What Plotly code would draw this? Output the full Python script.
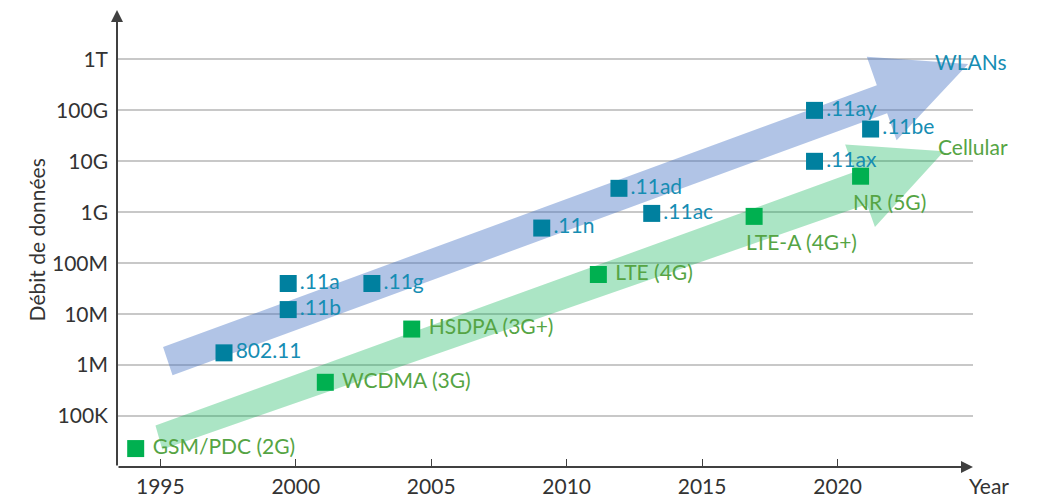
import math
import plotly.graph_objects as go

# Dados
wlan_nomes = ['802.11', '.11b', '.11a', '.11g', '.11n', '.11ad', '.11ac', '.11ay', '.11ax', '.11be']
wlan_anos = [1997.35, 1999.72, 1999.72, 2002.81, 2009.08, 2011.93, 2013.14, 2019.15, 2019.15, 2021.22]
wlan_debit = [1.74e6, 1.23e7, 4.0e7, 4.0e7, 4.9e8, 2.95e9, 9.5e8, 1.0e11, 1.0e10, 4.3e10]

cell_nomes = ['GSM/PDC (2G)', 'WCDMA (3G)', 'HSDPA (3G+)', 'LTE (4G)', 'LTE-A (4G+)', 'NR (5G)']
cell_anos = [1994.09, 2001.09, 2004.28, 2011.17, 2016.92, 2020.85]
cell_debit = [2.3e4, 4.6e5, 5.1e6, 6.0e7, 8.3e8, 5.1e9]
cell_dessous = [False, False, False, False, True, True]  # etiquette sous le point

# Contour des grandes fleches (annee, log10 debit)
fleche_wlan_x = [1995.10, 2021.45, 2021.08, 2024.82, 2022.18, 2021.83, 1995.45]
fleche_wlan_y = [6.355, 11.495, 12.051, 11.908, 10.415, 10.945, 5.799]
fleche_cell_x = [1994.82, 2020.64, 2020.28, 2023.93, 2021.38, 2021.08, 1995.07]
fleche_cell_y = [4.817, 9.794, 10.330, 10.199, 8.712, 9.158, 4.345]

# Ticks
x_ticks = [1995, 2000, 2005, 2010, 2015, 2020]
y_ticks = [1e5, 1e6, 1e7, 1e8, 1e9, 1e10, 1e11, 1e12]
y_labels = ['100K', '1M', '10M', '100M', '1G', '10G', '100G', '1T']

fonte = 'Lato'
taille = 21
cor_azul = '#00809f'
cor_azul_txt = '#168db3'
cor_verde = '#00b050'
cor_verde_txt = '#55a444'
cor_eixo = '#404040'

fig = go.Figure()

# Fleches
fig.add_trace(go.Scatter(x=fleche_wlan_x, y=[10 ** v for v in fleche_wlan_y],
                         fill='toself', fillcolor='rgba(68,114,196,0.42)',
                         mode='lines', line=dict(width=0), hoverinfo='skip'))
fig.add_trace(go.Scatter(x=fleche_cell_x, y=[10 ** v for v in fleche_cell_y],
                         fill='toself', fillcolor='rgba(0,176,80,0.33)',
                         mode='lines', line=dict(width=0), hoverinfo='skip'))

# Points WLAN
fig.add_trace(go.Scatter(x=wlan_anos, y=wlan_debit, mode='markers+text',
                         text=wlan_nomes, textposition='middle right',
                         marker=dict(symbol='square', size=17, color=cor_azul),
                         textfont=dict(family=fonte, size=taille, color=cor_azul_txt)))

# Points cellulaire
fig.add_trace(go.Scatter(x=cell_anos, y=cell_debit, mode='markers+text',
                         text=['' if d else ' ' + n for n, d in zip(cell_nomes, cell_dessous)],
                         textposition='middle right',
                         marker=dict(symbol='square', size=17, color=cor_verde),
                         textfont=dict(family=fonte, size=taille, color=cor_verde_txt)))

# Etiquettes sous les points (LTE-A, NR) - annotation em eixo log usa log10
for n, a, d, s in zip(cell_nomes, cell_anos, cell_debit, cell_dessous):
    if s:
        fig.add_annotation(x=a, y=math.log10(d), xref='x', yref='y', text=n, showarrow=False,
                           xanchor='left', yanchor='middle', xshift=-10, yshift=-25,
                           font=dict(family=fonte, size=taille, color=cor_verde_txt))

# Eixos com setas
fig.add_annotation(x=0, y=1, ax=0, ay=0, xref='x domain', yref='y domain', axref='x domain', ayref='y domain',
                   showarrow=True, arrowhead=2, arrowsize=1.2, arrowwidth=2, arrowcolor=cor_eixo, text='')
fig.add_annotation(x=1, y=0, ax=0, ay=0, xref='x domain', yref='y domain', axref='x domain', ayref='y domain',
                   showarrow=True, arrowhead=2, arrowsize=1.2, arrowwidth=2, arrowcolor=cor_eixo, text='')

# Textos
fig.add_annotation(x=0.998, y=0.888, xref='paper', yref='paper', text='WLANs', showarrow=False,
                   xanchor='center', yanchor='middle',
                   font=dict(family=fonte, size=taille, color=cor_azul_txt))
fig.add_annotation(x=1.0, y=0.702, xref='paper', yref='paper', text='Cellular', showarrow=False,
                   xanchor='center', yanchor='middle',
                   font=dict(family=fonte, size=taille, color=cor_verde_txt))
fig.add_annotation(x=0.993, y=-0.040, xref='paper', yref='paper', text='Year', showarrow=False,
                   xanchor='left', yanchor='middle', font=dict(family=fonte, size=taille, color='#333333'))
fig.add_annotation(x=-0.094, y=0.497, xref='paper', yref='paper', text='Débit de données',
                   textangle=-90, showarrow=False, xanchor='center', yanchor='middle',
                   font=dict(family=fonte, size=taille, color='#333333'))

# A pagina tem 8px de margem, entao o grafico e deslocado
fig.update_layout(width=1040, height=498, showlegend=False,
                  paper_bgcolor='white', plot_bgcolor='white',
                  margin=dict(l=109, r=75, t=2, b=39),
                  font=dict(family=fonte, size=taille, color='#333333'))

fig.update_xaxes(range=[1993.4, 2025.0], tickvals=x_ticks, showgrid=False, zeroline=False,
                 ticks='inside', ticklen=8, tickcolor=cor_eixo, tickwidth=1,
                 ticklabelstandoff=5, showline=False, automargin=False)
fig.update_yaxes(type='log', range=[4, 12.97], tickvals=y_ticks, ticktext=y_labels,
                 showgrid=True, gridcolor='#c8c8c8', gridwidth=1.5, zeroline=False,
                 ticks='', ticklabelstandoff=8, showline=False, automargin=False)

fig.write_html("out.html")
